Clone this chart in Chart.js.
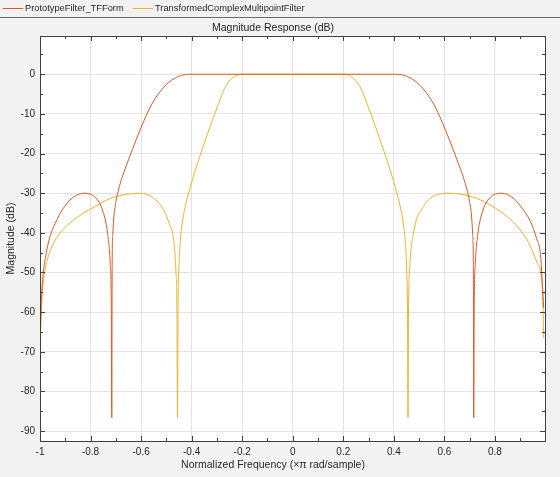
<!DOCTYPE html>
<html>
<head>
<meta charset="utf-8">
<script src="https://cdn.jsdelivr.net/npm/chart.js@4.4.0/dist/chart.umd.min.js"></script>
<style>
  html, body { margin: 0; padding: 0; background: #f2f2f2; }
  #wrap { width: 560px; height: 477px; position: relative; }
</style>
</head>
<body>
<div id="wrap"><canvas id="chart"></canvas></div>
<script>
// Series names
const seriesNames = ['PrototypeFilter_TFForm', 'TransformedComplexMultipointFilter'];
const seriesColors = ['#DB5A25', '#EDB42A'];

// Prototype filter
const protoX = [-1, -0.997, -0.993, -0.987, -0.977, -0.965, -0.951, -0.93, -0.912, -0.872, -0.826, -0.779, -0.753, -0.733, -0.722, -0.718, -0.716,
  -0.7145, -0.712, -0.707, -0.70, -0.69, -0.675, -0.65, -0.62, -0.59, -0.56, -0.53, -0.49, -0.45, -0.41,
  0, 0.41, 0.45, 0.49, 0.53, 0.56, 0.59, 0.62, 0.65, 0.675, 0.69, 0.70, 0.707, 0.712, 0.7145,
  0.716, 0.718, 0.722, 0.733, 0.753, 0.779, 0.826, 0.872, 0.912, 0.941, 0.965, 0.98, 0.993];
const protoY = [-72, -61, -55, -50, -45.7, -42, -39.2, -36.3, -34.2, -31.2, -30, -31.2, -34.2, -40, -48, -58, -86.6,
  -48, -40.5, -35.5, -32.3, -29.3, -26, -21.6, -16.6, -11.9, -7.8, -4.8, -2.0, -0.5, 0,
  0, 0, -0.5, -2.0, -4.8, -7.8, -11.9, -16.6, -21.6, -26, -29.3, -32.3, -35.5, -40.5, -48,
  -86.6, -58, -48, -40, -34.2, -31.2, -30, -31.2, -34.2, -37.2, -41.5, -45.5, -59];

// Transformed complex multipoint filter
const transX = [-1, -0.998, -0.995, -0.99, -0.982, -0.97, -0.955, -0.935, -0.912, -0.885, -0.858, -0.8, -0.725, -0.659, -0.606, -0.551, -0.511,
  -0.485, -0.472, -0.462, -0.458, -0.456, -0.454, -0.451, -0.446, -0.437, -0.425, -0.41, -0.388, -0.362, -0.335, -0.31, -0.30, -0.275, -0.25, -0.225, -0.208,
  0, 0.208, 0.225, 0.25, 0.275, 0.30, 0.31, 0.335, 0.362, 0.388, 0.41, 0.425, 0.437, 0.446, 0.451, 0.454, 0.456,
  0.458, 0.462, 0.478, 0.518, 0.571, 0.617, 0.677, 0.743, 0.861, 0.90, 0.927, 0.95, 0.967, 0.987, 0.993];
const transY = [-95, -70, -61, -54.5, -50, -46.5, -43.8, -41.3, -39.4, -37.7, -36.3, -34, -31.4, -30.3, -30, -31.2, -34.2,
  -38.3, -41.4, -50, -60, -86.6, -60, -50, -43, -37.5, -33.3, -29.5, -24.7, -19.6, -14.6, -10.2, -8.5, -4.3, -1.6, -0.4, 0,
  0, 0, -0.4, -1.6, -4.3, -8.5, -10.2, -14.6, -19.6, -24.7, -29.5, -33.3, -37.5, -43, -50, -60, -86.6,
  -60, -50, -40, -33.3, -30.4, -30, -30.4, -31.7, -36.6, -39.3, -41.7, -44.8, -47.6, -53.5, -66.5];

// Axis ticks
const xTickValues = [-1, -0.9, -0.8, -0.7, -0.6, -0.5, -0.4, -0.3, -0.2, -0.1, 0, 0.1, 0.2, 0.3, 0.4, 0.5, 0.6, 0.7, 0.8, 0.9];
const xTickLabels = ['-1', '', '-0.8', '', '-0.6', '', '-0.4', '', '-0.2', '', '0', '', '0.2', '', '0.4', '', '0.6', '', '0.8', ''];
const yTickValues = [-90, -85, -80, -75, -70, -65, -60, -55, -50, -45, -40, -35, -30, -25, -20, -15, -10, -5, 0, 5];
const yTickLabels = ['-90', '', '-80', '', '-70', '', '-60', '', '-50', '', '-40', '', '-30', '', '-20', '', '-10', '', '0', ''];

const FONT = '"Liberation Sans", Arial, Helvetica, sans-serif';
const TEXT = '#262626';

function toPoints(xs, ys) {
  return xs.map((x, i) => ({ x: x, y: ys[i] }));
}

// Draws the MATLAB style box, inward ticks, legend and titles
const decorPlugin = {
  id: 'decor',
  beforeDraw(chart) {
    const ctx = chart.ctx;
    const a = chart.chartArea;
    ctx.save();
    ctx.fillStyle = '#ffffff';
    ctx.fillRect(a.left, a.top, a.right - a.left, a.bottom - a.top);
    ctx.restore();
  },
  afterDatasetsDraw(chart) {
    const ctx = chart.ctx;
    const a = chart.chartArea;
    const xs = chart.scales.x, ys = chart.scales.y;
    ctx.save();
    ctx.strokeStyle = '#404040';
    ctx.lineWidth = 1;
    ctx.beginPath();
    xTickValues.forEach((v, i) => {
      const len = xTickLabels[i] ? 5 : 3;
      const px = Math.round(xs.getPixelForValue(v)) + 0.5;
      ctx.moveTo(px, a.bottom); ctx.lineTo(px, a.bottom - len);
      ctx.moveTo(px, a.top); ctx.lineTo(px, a.top + len);
    });
    yTickValues.forEach((v, i) => {
      const len = yTickLabels[i] ? 5 : 3;
      const py = Math.round(ys.getPixelForValue(v)) + 0.5;
      ctx.moveTo(a.left, py); ctx.lineTo(a.left + len, py);
      ctx.moveTo(a.right, py); ctx.lineTo(a.right - len, py);
    });
    ctx.stroke();
    ctx.strokeRect(Math.round(a.left) + 0.5, Math.round(a.top) + 0.5,
      Math.round(a.right - a.left), Math.round(a.bottom - a.top));
    ctx.restore();
  },
  afterDraw(chart) {
    const ctx = chart.ctx;
    const a = chart.chartArea;
    ctx.save();
    // legend
    ctx.font = '9.3px ' + FONT;
    ctx.textBaseline = 'middle';
    ctx.fillStyle = TEXT;
    const legendX = [3, 133];
    seriesNames.forEach((name, i) => {
      ctx.strokeStyle = seriesColors[i];
      ctx.lineWidth = 1;
      ctx.beginPath();
      ctx.moveTo(legendX[i], 8.5); ctx.lineTo(legendX[i] + 20, 8.5);
      ctx.stroke();
      ctx.fillText(name, legendX[i] + 22, 8.5);
    });
    // separator
    ctx.strokeStyle = '#6a6a6a';
    ctx.beginPath();
    ctx.moveTo(0, 17.5); ctx.lineTo(chart.width, 17.5);
    ctx.stroke();
    // titles
    ctx.font = '10.5px ' + FONT;
    ctx.textAlign = 'center';
    ctx.fillText('Magnitude Response (dB)', 273, 28);
    ctx.fillText('Normalized Frequency (\u00d7\u03c0 rad/sample)', 273, 465);
    ctx.translate(11, (a.top + a.bottom) / 2);
    ctx.rotate(-Math.PI / 2);
    ctx.fillText('Magnitude (dB)', 0, 0);
    ctx.restore();
  }
};

const ctx = document.getElementById('chart').getContext('2d');
new Chart(ctx, {
  type: 'line',
  data: {
    datasets: [
      {
        label: seriesNames[0],
        data: toPoints(protoX, protoY),
        borderColor: seriesColors[0],
        borderWidth: 1,
        pointRadius: 0,
        cubicInterpolationMode: 'monotone'
      },
      {
        label: seriesNames[1],
        data: toPoints(transX, transY),
        borderColor: seriesColors[1],
        borderWidth: 1,
        pointRadius: 0,
        cubicInterpolationMode: 'monotone'
      }
    ]
  },
  options: {
    responsive: true,
    maintainAspectRatio: false,
    animation: false,
    layout: { padding: { top: 36, right: 15, left: 0, bottom: 0 } },
    plugins: {
      legend: { display: false },
      title: { display: false },
      tooltip: { enabled: false }
    },
    scales: {
      x: {
        type: 'linear',
        min: -1,
        max: 0.998,
        afterBuildTicks: s => { s.ticks = xTickValues.map(v => ({ value: v })); },
        afterFit: s => { s.height = 36; },
        border: { display: false },
        grid: {
          drawTicks: false,
          color: c => (c.tick && xTickLabels[xTickValues.indexOf(c.tick.value)]) ? '#e3e3e3' : 'rgba(0,0,0,0)'
        },
        ticks: {
          autoSkip: false,
          maxRotation: 0,
          padding: 5,
          color: TEXT,
          font: { family: FONT, size: 10 },
          callback: (v, i) => xTickLabels[i]
        }
      },
      y: {
        min: -92.5,
        max: 9.65,
        afterBuildTicks: s => { s.ticks = yTickValues.map(v => ({ value: v })); },
        afterFit: s => { s.width = 40; },
        border: { display: false },
        grid: {
          drawTicks: false,
          color: c => (c.tick && yTickLabels[yTickValues.indexOf(c.tick.value)]) ? '#e3e3e3' : 'rgba(0,0,0,0)'
        },
        ticks: {
          autoSkip: false,
          padding: 5,
          color: TEXT,
          font: { family: FONT, size: 10 },
          callback: (v, i) => yTickLabels[i]
        }
      }
    }
  },
  plugins: [decorPlugin]
});
</script>
</body>
</html>
